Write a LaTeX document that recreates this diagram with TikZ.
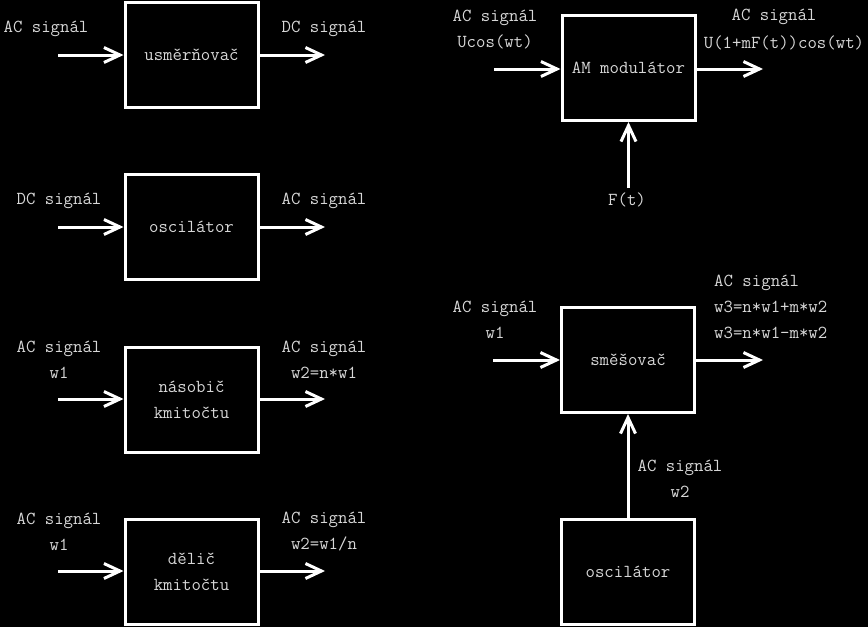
\documentclass[tikz,border=0pt]{standalone}
\usepackage{fontspec}
\usepackage{xcolor}
\usepackage{tikz}
\usetikzlibrary{arrows.meta,positioning}
\definecolor{textgray}{RGB}{215,215,215}

\begin{document}
\begin{tikzpicture}[
    x=1pt, y=-1pt,
    font=\ttfamily\fontsize{18.3}{26}\selectfont,
    box/.style={draw=white, line width=3pt, align=center, text=textgray, minimum width=133pt, minimum height=105pt, inner sep=0pt},
    lbl/.style={text=textgray, align=center, inner sep=0pt},
    arrow/.style={-{Straight Barb[length=16pt, width=15pt]}, draw=white, line width=3pt}
  ]
    \fill[black] (0,0) rectangle (868,627);
    \useasboundingbox (0,0) rectangle (868,627);
    % left column
    \node[box] (rect) at (191.5,55) {usměrňovač};
    \node[box] (osc) at (191.5,227) {oscilátor};
    \node[box] (mult) at (191.5,399.5) {násobič\\kmitočtu};
    \node[box] (div) at (191.5,571.5) {dělič\\kmitočtu};
    \coordinate (rectin) at (58,55);
    \coordinate (rectout) at (325,55);
    \coordinate (oscin) at (58,227);
    \coordinate (oscout) at (325,227);
    \coordinate (multin) at (58,399);
    \coordinate (multout) at (325,399);
    \coordinate (divin) at (58,571);
    \coordinate (divout) at (325,571);
    \node[lbl] (rectinl) at (46,29) {AC signál};
    \node[lbl] (rectoutl) at (324,29) {DC signál};
    \node[lbl] (oscinl) at (59,201) {DC signál};
    \node[lbl] (oscoutl) at (324,201) {AC signál};
    \node[lbl] (multinl) at (59,360) {AC signál\\w1};
    \node[lbl] (multoutl) at (324,360) {AC signál\\w2=n*w1};
    \node[lbl] (divinl) at (59,532) {AC signál\\w1};
    \node[lbl] (divoutl) at (324,532) {AC signál\\w2=w1/n};
    \draw[arrow] (rectin) -- (rect);
    \draw[arrow] (rect) -- (rectout);
    \draw[arrow] (oscin) -- (osc);
    \draw[arrow] (osc) -- (oscout);
    \draw[arrow] (multin) -- (mult.west |- multin);
    \draw[arrow] (mult.east |- multout) -- (multout);
    \draw[arrow] (divin) -- (div.west |- divin);
    \draw[arrow] (div.east |- divout) -- (divout);
    % right column
    \node[box] (am) at (628.5,68) {AM modulátor};
    \node[box] (mix) at (628,360) {směšovač};
    \node[box] (lo) at (628,571.5) {oscilátor};
    \coordinate (amin) at (494,69);
    \coordinate (amout) at (763,69);
    \coordinate (amf) at (628.5,188);
    \coordinate (mixin) at (493,360);
    \coordinate (mixout) at (763,360);
    \node[lbl] (aminl) at (495,30) {AC signál\\Ucos(wt)};
    \node[lbl] (amoutl) at (774,17) {AC signál};
    \node[lbl] (amoutm) at (784,43) {U(1+mF(t))cos(wt)};
    \node[lbl] (amfl) at (627,200) {F(t)};
    \node[lbl] (mixinl) at (495,320) {AC signál\\w1};
    \node[lbl, align=left, anchor=west] (mixoutl) at (714,307) {AC signál\\w3=n*w1+m*w2\\w3=n*w1-m*w2};
    \node[lbl] (lol) at (680,479) {AC signál\\w2};
    \draw[arrow] (amin) -- (am.west |- amin);
    \draw[arrow] (am.east |- amout) -- (amout);
    \draw[arrow] (amf) -- (am);
    \draw[arrow] (mixin) -- (mix);
    \draw[arrow] (mix) -- (mixout);
    \draw[arrow] (lo) -- (mix);
  \end{tikzpicture}
\end{document}
